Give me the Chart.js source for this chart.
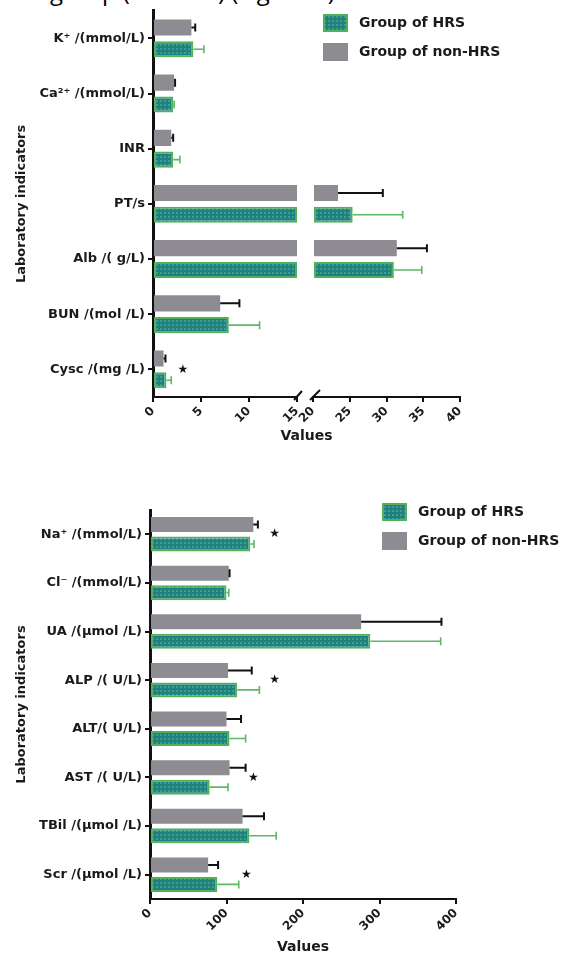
<!DOCTYPE html>
<html lang="en">
<head>
<meta charset="UTF-8">
<title>Laboratory indicators</title>
<script src="https://cdn.jsdelivr.net/npm/chart.js@4"></script>
<style>
  body { margin: 0; background: #fff; }
  #wrap { position: relative; width: 574px; height: 956px; overflow: hidden; }
  #note { position: absolute; left: -2px; top: -21px; font: 24px 'Open Sans', sans-serif; line-height: 24px; color: #000; white-space: nowrap; }
  #c1 { position: absolute; left: 0; top: 0; }
  #c2 { position: absolute; left: 0; top: 470px; }
</style>
</head>
<body>
<div id="wrap">
  <div id="note">HRS group (P &lt; 0.05) (Figure 1).</div>
  <canvas id="c1" width="574" height="448"></canvas>
  <canvas id="c2" width="574" height="486"></canvas>
</div>
<script>
// top panel (broken x axis)
const topLabels = ['K⁺ /(mmol/L)', 'Ca²⁺ /(mmol/L)', 'INR', 'PT/s', 'Alb /( g/L)', 'BUN /(mol /L)', 'Cysc /(mg /L)'];
const topHrs = [4.2, 2.1, 2.1, 25.4, 31.0, 7.9, 1.4];
const topHrsSd = [1.1, 0.1, 0.7, 6.8, 3.8, 3.2, 0.5];
const topNon = [4.0, 2.2, 1.9, 23.4, 31.4, 7.0, 1.1];
const topNonSd = [0.4, 0.1, 0.2, 6.1, 4.1, 2.0, 0.2];
const topLowTicks = [0, 5, 10, 15];
const topHighTicks = [20, 25, 30, 35, 40];
const topStars = [[6, 3.1]]; // [category index, x value]

// bottom panel
const botLabels = ['Na⁺ /(mmol/L)', 'Cl⁻ /(mmol/L)', 'UA /(μmol /L)', 'ALP /( U/L)', 'ALT/( U/L)', 'AST /( U/L)', 'TBil /(μmol /L)', 'Scr /(μmol /L)'];
const botHrs = [131, 100, 288, 114, 104, 78, 130, 88];
const botHrsSd = [5, 3, 92, 29, 21, 24, 35, 28];
const botNon = [135, 103, 276, 102, 100, 104, 121, 76];
const botNonSd = [6, 1, 105, 31, 19, 21, 28, 13];
const botTicks = [0, 100, 200, 300, 400];
const botStars = [[0, 163], [3, 163], [5, 135], [7, 126]];

const GRAY = '#8e8c92';
const GREEN_EDGE = '#52b05a';
const GREEN_ERR = '#5cb865';

Chart.defaults.font.family = "'DejaVu Sans', sans-serif";
Chart.defaults.font.size = 13;
Chart.defaults.font.weight = 'bold';
Chart.defaults.color = '#1a1a1a';

// teal fill with a fine dotted texture
function tealPattern(ctx) {
  const c = document.createElement('canvas');
  c.width = 4; c.height = 4;
  const g = c.getContext('2d');
  g.fillStyle = '#20807c';
  g.fillRect(0, 0, 4, 4);
  g.fillStyle = '#3e9d96';
  g.fillRect(0, 0, 2, 2);
  return ctx.createPattern(c, 'repeat');
}

function drawErr(chart, scaleFor, dsIndex, means, sds, color, lw) {
  const ctx = chart.ctx;
  const meta = chart.getDatasetMeta(dsIndex);
  ctx.save();
  ctx.strokeStyle = color;
  ctx.lineWidth = lw;
  means.forEach((m, i) => {
    const a = scaleFor(m).getPixelForValue(m);
    const b = scaleFor(m + sds[i]).getPixelForValue(m + sds[i]);
    const y = meta.data[i].y;
    ctx.beginPath();
    ctx.moveTo(a, y); ctx.lineTo(b, y);
    ctx.moveTo(b, y - 4); ctx.lineTo(b, y + 4);
    ctx.stroke();
  });
  ctx.restore();
}

function drawStars(chart, scaleFor, stars) {
  const ctx = chart.ctx;
  ctx.save();
  ctx.fillStyle = '#111';
  ctx.font = "12px 'DejaVu Sans'";
  ctx.textAlign = 'center';
  ctx.textBaseline = 'middle';
  stars.forEach(s => {
    ctx.fillText('★', scaleFor(s[1]).getPixelForValue(s[1]), chart.scales.y.getPixelForValue(s[0]));
  });
  ctx.restore();
}

function drawLegend(chart, x, y, hrsSet, nonSet) {
  const ctx = chart.ctx;
  ctx.save();
  ctx.font = "bold 14px 'DejaVu Sans'";
  ctx.textBaseline = 'middle';
  ctx.fillStyle = hrsSet.backgroundColor;
  ctx.fillRect(x, y, 25, 18);
  ctx.strokeStyle = GREEN_EDGE; ctx.lineWidth = 2;
  ctx.strokeRect(x + 1, y + 1, 23, 16);
  ctx.fillStyle = GRAY;
  ctx.fillRect(x, y + 29, 25, 18);
  ctx.fillStyle = '#1a1a1a';
  ctx.fillText(hrsSet.label, x + 36, y + 9);
  ctx.fillText(nonSet.label, x + 36, y + 38);
  ctx.restore();
}

function yAxis(width) {
  return {
    type: 'category',
    offset: true,
    grid: { display: true, offset: false, drawOnChartArea: false, tickLength: 5, color: '#111', lineWidth: 2 },
    border: { display: true, color: '#111', width: 3 },
    ticks: { padding: 3, font: { size: 13, weight: 'bold' } },
    title: { display: true, text: 'Laboratory indicators', font: { size: 13, weight: 'bold' }, padding: { top: 14, bottom: 0 } },
    afterFit: s => { s.width = width; }
  };
}

function xAxis(min, max, ticks, h, extra) {
  return Object.assign({
    type: 'linear',
    position: 'bottom',
    min: min, max: max,
    stacked: false,
    grid: { display: true, drawOnChartArea: false, tickLength: 5, color: '#111', lineWidth: 2 },
    border: { display: true, color: '#111', width: 2 },
    ticks: { autoSkip: false, minRotation: 45, maxRotation: 45, padding: 2, font: { size: 12, weight: 'bold' } },
    afterBuildTicks: s => { s.ticks = ticks.map(v => ({ value: v })); },
    afterFit: s => { s.height = h; }
  }, extra || {});
}

// ---------- top chart ----------
const ctx1 = document.getElementById('c1').getContext('2d');
const teal1 = tealPattern(ctx1);
const lowScale = v => v <= 15;
new Chart(ctx1, {
  type: 'bar',
  data: {
    labels: topLabels,
    datasets: [
      { label: 'Group of non-HRS', data: topNon.map(v => Math.min(v, 15)), xAxisID: 'x1', stack: 'non',
        backgroundColor: GRAY, borderWidth: 0 },
      { label: 'Group of HRS', data: topHrs.map(v => Math.min(v, 15)), xAxisID: 'x1', stack: 'hrs',
        backgroundColor: teal1, borderColor: GREEN_EDGE, borderWidth: 2, borderSkipped: false },
      { label: 'Group of non-HRS', data: topNon.map(v => v > 20 ? v : null), xAxisID: 'x2', stack: 'non', base: 20,
        backgroundColor: GRAY, borderWidth: 0 },
      { label: 'Group of HRS', data: topHrs.map(v => v > 20 ? v : null), xAxisID: 'x2', stack: 'hrs', base: 20,
        backgroundColor: teal1, borderColor: GREEN_EDGE, borderWidth: 2, borderSkipped: false }
    ]
  },
  options: {
    indexAxis: 'y',
    responsive: false,
    animation: false,
    categoryPercentage: 0.79,
    barPercentage: 0.74,
    layout: { padding: { top: 8, right: 114, bottom: 0, left: 0 } },
    plugins: { legend: { display: false }, tooltip: { enabled: false } },
    scales: {
      y: yAxis(153),
      x1: xAxis(0, 15, topLowTicks, 51, { stack: 'xs', stackWeight: 144 }),
      xgap: { type: 'linear', position: 'bottom', min: 0, max: 1, stack: 'xs', stackWeight: 16,
        grid: { display: false }, border: { display: false }, ticks: { display: false },
        afterFit: s => { s.height = 51; } },
      x2: xAxis(20, 40, topHighTicks, 51, { stack: 'xs', stackWeight: 147 })
    }
  },
  plugins: [{
    id: 'extras1',
    afterDatasetsDraw(chart) {
      const pick = v => lowScale(v) ? chart.scales.x1 : chart.scales.x2;
      drawErr(chart, pick, 0, topNon, topNonSd, '#111', 2);
      drawErr(chart, pick, 1, topHrs, topHrsSd, GREEN_ERR, 1.6);
      drawStars(chart, pick, topStars);
    },
    afterDraw(chart) {
      const ctx = chart.ctx;
      const a = chart.scales.x1, b = chart.scales.x2;
      const yb = chart.chartArea.bottom;
      ctx.save();
      ctx.strokeStyle = '#111';
      ctx.lineWidth = 2;
      ctx.beginPath();
      ctx.moveTo(a.right - 3, yb + 3); ctx.lineTo(a.right + 5, yb - 6);
      ctx.moveTo(b.left - 3, yb + 3); ctx.lineTo(b.left + 7, yb - 7);
      ctx.stroke();
      ctx.font = "bold 14px 'DejaVu Sans'";
      ctx.fillStyle = '#1a1a1a';
      ctx.textAlign = 'center';
      ctx.textBaseline = 'middle';
      ctx.fillText('Values', (a.left + b.right) / 2, 436);
      ctx.restore();
      drawLegend(chart, 323, 14, chart.data.datasets[1], chart.data.datasets[0]);
    }
  }]
});

// ---------- bottom chart ----------
const ctx2 = document.getElementById('c2').getContext('2d');
const teal2 = tealPattern(ctx2);
new Chart(ctx2, {
  type: 'bar',
  data: {
    labels: botLabels,
    datasets: [
      { label: 'Group of non-HRS', data: botNon, backgroundColor: GRAY, borderWidth: 0 },
      { label: 'Group of HRS', data: botHrs, backgroundColor: teal2, borderColor: GREEN_EDGE, borderWidth: 2, borderSkipped: false }
    ]
  },
  options: {
    indexAxis: 'y',
    responsive: false,
    animation: false,
    categoryPercentage: 0.8,
    barPercentage: 0.77,
    layout: { padding: { top: 40, right: 118, bottom: 0, left: 0 } },
    plugins: { legend: { display: false }, tooltip: { enabled: false } },
    scales: {
      y: yAxis(150),
      x: xAxis(0, 400, botTicks, 57, {
        title: { display: true, text: 'Values', font: { size: 14, weight: 'bold' }, padding: { top: 0, bottom: 0 } }
      })
    }
  },
  plugins: [{
    id: 'extras2',
    afterDatasetsDraw(chart) {
      const pick = () => chart.scales.x;
      drawErr(chart, pick, 0, botNon, botNonSd, '#111', 2);
      drawErr(chart, pick, 1, botHrs, botHrsSd, GREEN_ERR, 1.6);
      drawStars(chart, pick, botStars);
    },
    afterDraw(chart) {
      drawLegend(chart, 382, 33, chart.data.datasets[1], chart.data.datasets[0]);
    }
  }]
});
</script>
</body>
</html>
